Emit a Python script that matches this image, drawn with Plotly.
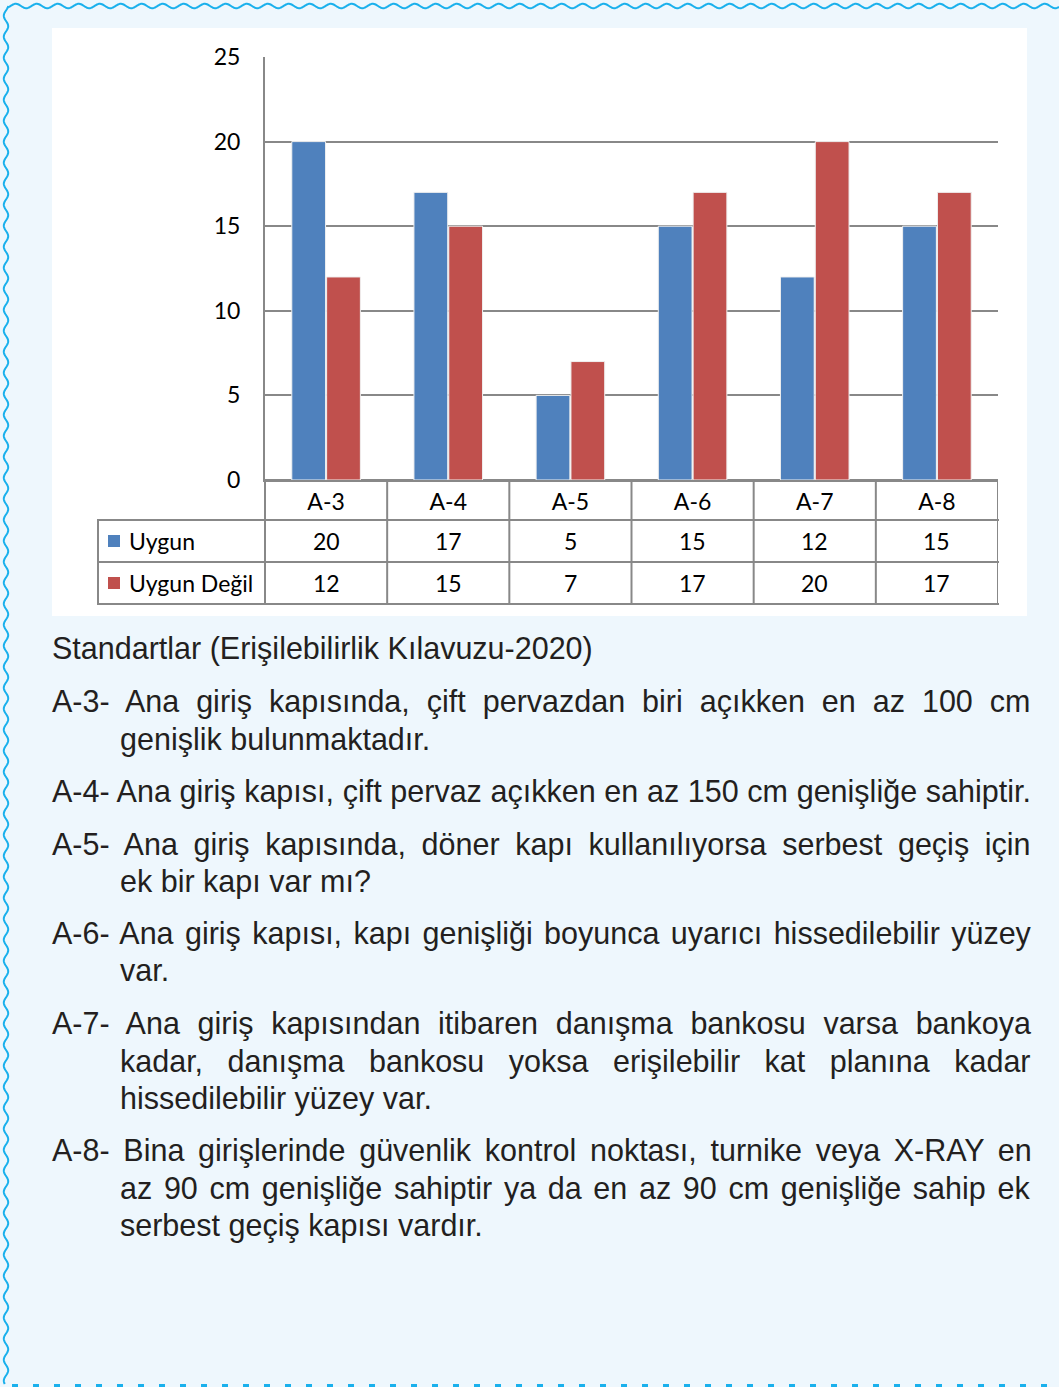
import numpy as np
import plotly.graph_objects as go

# data
categories = ["A-3", "A-4", "A-5", "A-6", "A-7", "A-8"]
uygun = [20, 17, 5, 15, 12, 15]
uygun_degil = [12, 15, 7, 17, 20, 17]
series_names = ["Uygun", "Uygun Değil"]
y_ticks = [0, 5, 10, 15, 20, 25]

title_text = "Standartlar (Erişilebilirlik Kılavuzu-2020)"
# (text, extra word spacing in px used to justify the line)
standards = [
    [("A-3- Ana giriş kapısında, çift pervazdan biri açıkken en az 100 cm", 8.5),
     ("genişlik bulunmaktadır.", 0)],
    [("A-4- Ana giriş kapısı, çift pervaz açıkken en az 150 cm genişliğe sahiptir.", 0.2)],
    [("A-5- Ana giriş kapısında, döner kapı kullanılıyorsa serbest geçiş için", 7.2),
     ("ek bir kapı var mı?", 0)],
    [("A-6- Ana giriş kapısı, kapı genişliği boyunca uyarıcı hissedilebilir yüzey", 2.9),
     ("var.", 0)],
    [("A-7- Ana giriş kapısından itibaren danışma bankosu varsa bankoya", 9.2),
     ("kadar, danışma bankosu yoksa erişilebilir kat planına kadar", 16),
     ("hissedilebilir yüzey var.", 0)],
    [("A-8- Bina girişlerinde güvenlik kontrol noktası, turnike veya X-RAY en", 5.2),
     ("az 90 cm genişliğe sahiptir ya da en az 90 cm genişliğe sahip ek", 3.2),
     ("serbest geçiş kapısı vardır.", 0)],
]

W, H = 1059, 1387
BLUE, RED = "#4f81bd", "#c0504d"
GRID = "#888888"
BORDER = "#1ab0ec"
CHART_FONT = "Lato"
BODY_FONT = "Liberation Sans"


def X(px):
    return px / W


def Y(py):
    return 1 - py / H


fig = go.Figure()
fig.add_trace(go.Bar(x=categories, y=uygun, name=series_names[0],
                     marker=dict(color=BLUE, line=dict(color="#f0f0f0", width=1))))
fig.add_trace(go.Bar(x=categories, y=uygun_degil, name=series_names[1],
                     marker=dict(color=RED, line=dict(color="#f0f0f0", width=1))))

shapes = []
# white chart panel
shapes.append(dict(type="rect", xref="paper", yref="paper", layer="below",
                   x0=X(52), x1=X(1027), y0=Y(616), y1=Y(28),
                   fillcolor="white", line=dict(width=0)))

# data table grid
line = dict(color=GRID, width=2)
for yy in (520, 562, 604):
    shapes.append(dict(type="line", xref="paper", yref="paper",
                       x0=X(97), x1=X(999), y0=Y(yy), y1=Y(yy), line=line))
shapes.append(dict(type="line", xref="paper", yref="paper",
                   x0=X(98), x1=X(98), y0=Y(520), y1=Y(604), line=line))
shapes.append(dict(type="line", xref="paper", yref="paper",
                   x0=X(265), x1=X(265), y0=Y(480), y1=Y(604), line=line))
for i in range(len(categories)):
    shapes.append(dict(type="line", xref="x", yref="paper",
                       x0=i + 0.5, x1=i + 0.5, y0=Y(480), y1=Y(604), line=line))

# legend keys in the table
for yy, col in ((541, BLUE), (583, RED)):
    shapes.append(dict(type="rect", xref="paper", yref="paper",
                       x0=X(108), x1=X(120), y0=Y(yy + 6), y1=Y(yy - 6),
                       fillcolor=col, line=dict(width=0)))

# decorative frame: wavy top & left, dashed bottom
xs = np.arange(8, W + 1, 1.0)
ys = 6 + 2.2 * np.sin(2 * np.pi * xs / 21.0)
path = "M " + " L ".join(f"{X(a):.5f},{Y(b):.5f}" for a, b in zip(xs, ys))
shapes.append(dict(type="path", xref="paper", yref="paper", path=path,
                   line=dict(color=BORDER, width=2)))
yv = np.arange(6, H - 2, 1.0)
xv = 6 + 2.2 * np.sin(2 * np.pi * yv / 21.0)
path = "M " + " L ".join(f"{X(a):.5f},{Y(b):.5f}" for a, b in zip(xv, yv))
shapes.append(dict(type="path", xref="paper", yref="paper", path=path,
                   line=dict(color=BORDER, width=2)))
shapes.append(dict(type="line", xref="paper", yref="paper",
                   x0=X(12), x1=X(W), y0=Y(1385.5), y1=Y(1385.5),
                   line=dict(color=BORDER, width=3, dash="6px,15px")))

annotations = []
tfont = dict(family=CHART_FONT, size=23, color="#000")
# table text
for yy, name, vals in ((541, series_names[0], uygun), (583, series_names[1], uygun_degil)):
    annotations.append(dict(xref="paper", yref="paper", x=X(127), y=Y(yy),
                            text=name, showarrow=False, xanchor="left", yanchor="middle",
                            font=tfont))
    for c, v in zip(categories, vals):
        annotations.append(dict(xref="x", yref="paper", x=c, y=Y(yy),
                                text=str(v), showarrow=False, xanchor="center",
                                yanchor="middle", font=tfont))

# text below the chart
body = dict(family=BODY_FONT, size=30.5, color="#231f20")
annotations.append(dict(xref="paper", yref="paper", x=X(50), y=Y(649), text=title_text,
                        showarrow=False, xanchor="left", yanchor="middle", font=body))
line_y = {0: [701, 739], 1: [791], 2: [844, 881], 3: [933, 970],
          4: [1023, 1061, 1098], 5: [1150, 1188, 1225]}
for k, lines in enumerate(standards):
    for j, (txt, ws) in enumerate(lines):
        if ws:
            txt = f'<span style="word-spacing:{ws}px">{txt}</span>'
        annotations.append(dict(xref="paper", yref="paper",
                                x=X(50 if j == 0 else 118), y=Y(line_y[k][j]),
                                text=txt, showarrow=False, xanchor="left",
                                yanchor="middle", font=body))

fig.update_layout(
    width=W, height=H,
    margin=dict(l=0, r=0, t=0, b=0, pad=0, autoexpand=False),
    paper_bgcolor="#eef7fd",
    plot_bgcolor="white",
    showlegend=False,
    barmode="group",
    bargap=0.43,
    bargroupgap=0.03,
    shapes=shapes,
    annotations=annotations,
    xaxis=dict(domain=[X(265), X(998)], range=[-0.5, 5.5], showgrid=False,
               showline=True, linecolor=GRID, linewidth=2,
               tickfont=tfont, ticklabelstandoff=0),
    yaxis=dict(domain=[Y(480), Y(57)], range=[0, 25], tickvals=y_ticks,
               showgrid=True, gridcolor=GRID, gridwidth=2,
               zeroline=True, zerolinecolor=GRID, zerolinewidth=2,
               showline=True, linecolor=GRID, linewidth=2,
               tickfont=tfont, ticklabelstandoff=18),
)

fig.write_html("out.html", config={"displayModeBar": False},
               post_script="document.body.style.margin='0';")
